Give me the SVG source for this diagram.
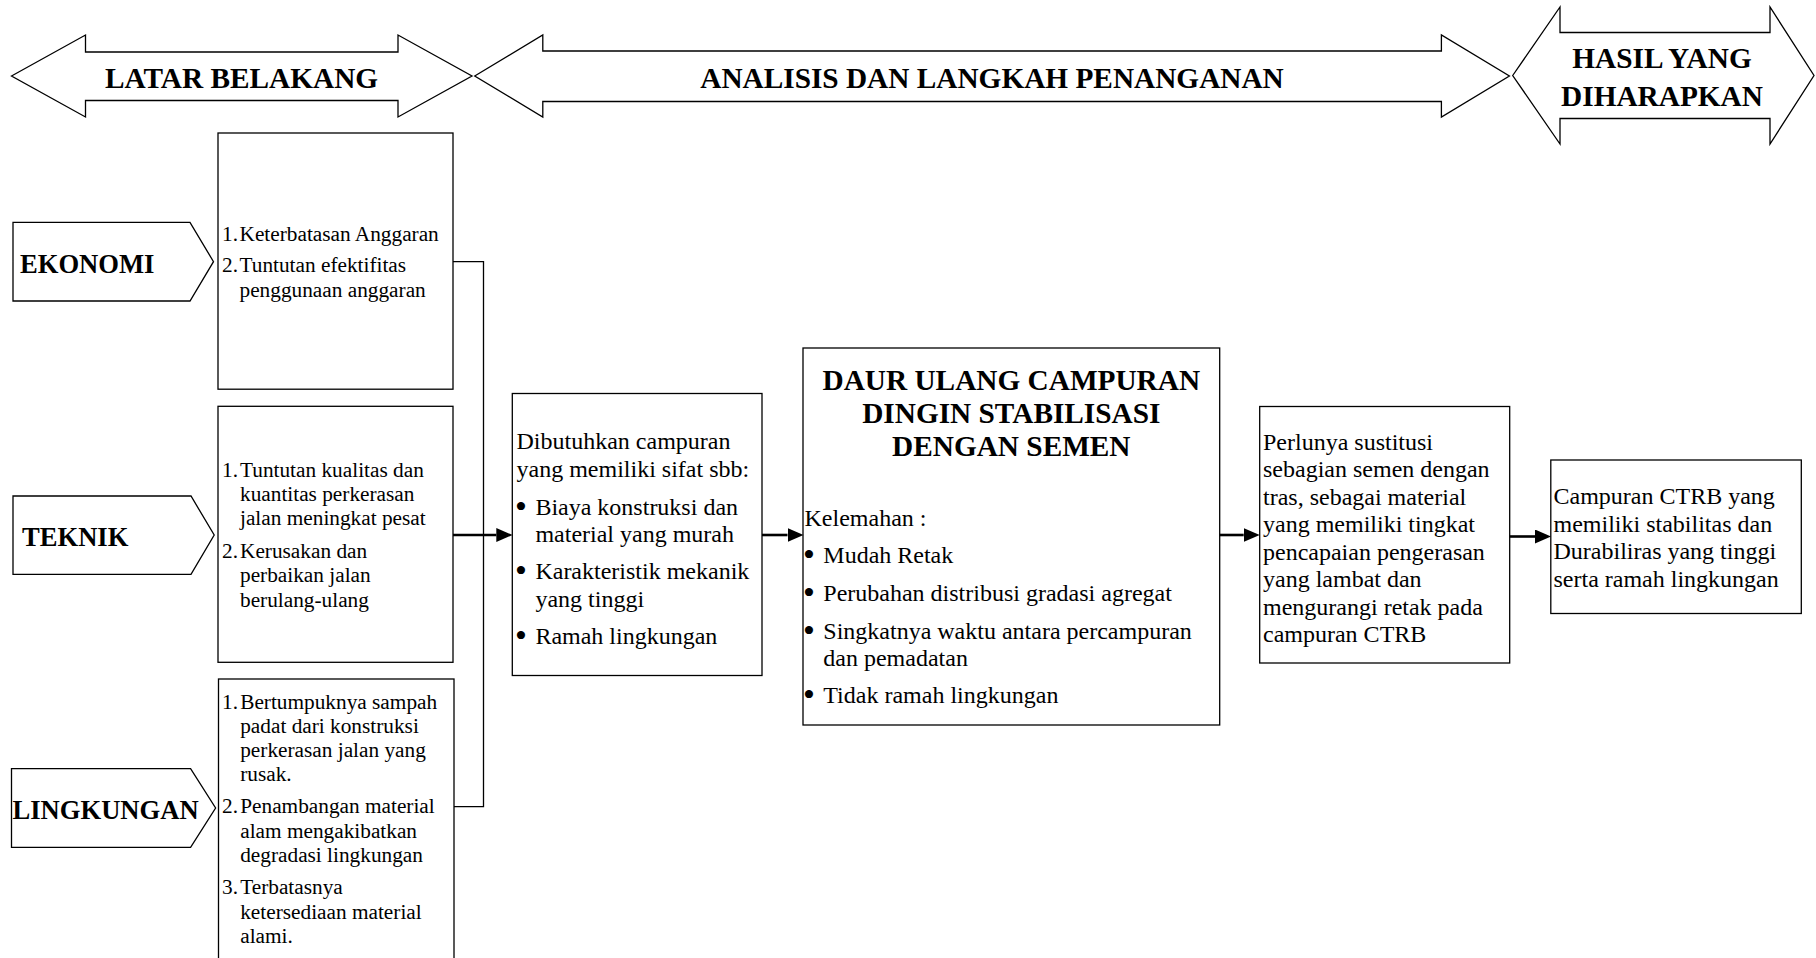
<svg xmlns="http://www.w3.org/2000/svg" width="1816" height="958" viewBox="0 0 1816 958">
<style>
.bg{fill:#ffffff}
.shape{fill:#ffffff;stroke:#000000;stroke-width:1.3}
.con{fill:none;stroke:#000000;stroke-width:1.3}
.arr{fill:none;stroke:#000000;stroke-width:2.6}
text{font-family:"Liberation Serif","Times New Roman",serif;fill:#000000}
.hd{font-size:29.3px;font-weight:bold}
.lbl{font-size:26.6px;font-weight:bold}
.sm{font-size:21.3px}
.md{font-size:24px}
.bl{font-size:34px}
.c{text-anchor:middle}
</style>
<defs>
<marker id="ah" viewBox="0 0 16 14" refX="0" refY="7" markerWidth="16" markerHeight="14" markerUnits="userSpaceOnUse" orient="auto">
<path d="M0,0 L16,7 L0,14 Z" fill="#000000"/>
</marker>
</defs>
<rect class="bg" x="0" y="0" width="1816" height="958"/>

<g id="band-latar">
<path class="shape" d="M11.5,76 L85.5,35 L85.5,52 L398,52 L398,35 L472,76 L398,117 L398,100.5 L85.5,100.5 L85.5,117 Z"/>
<text class="hd c" x="241.5" y="88.3">LATAR BELAKANG</text>
</g>
<g id="band-analisis">
<path class="shape" d="M474.7,76 L542.8,35 L542.8,51 L1441.4,51 L1441.4,35 L1509.4,76 L1441.4,117 L1441.4,101.5 L542.8,101.5 L542.8,117 Z"/>
<text class="hd c" x="992" y="88.3">ANALISIS DAN LANGKAH PENANGANAN</text>
</g>
<g id="band-hasil">
<path class="shape" d="M1512.7,75.5 L1560,7 L1560,32.5 L1770,32.5 L1770,7 L1814,75.5 L1770,144 L1770,118.5 L1560,118.5 L1560,144 Z"/>
<text class="hd c" x="1662" y="68.3">HASIL YANG</text>
<text class="hd c" x="1662" y="106">DIHARAPKAN</text>
</g>

<g id="ekonomi">
<path class="shape" d="M13,222.3 L190,222.3 L213.5,261.7 L190,301 L13,301 Z"/>
<text class="lbl" x="20" y="273.3">EKONOMI</text>
</g>
<g id="teknik">
<path class="shape" d="M13,496 L191,496 L214.2,535 L191,574.3 L13,574.3 Z"/>
<text class="lbl" x="22" y="546">TEKNIK</text>
</g>
<g id="lingkungan">
<path class="shape" d="M11.5,768.7 L190.6,768.7 L215.6,808 L190.6,847.3 L11.5,847.3 Z"/>
<text class="lbl" x="12.5" y="819.3">LINGKUNGAN</text>
</g>

<g id="box-ekonomi">
<rect class="shape" x="218" y="133" width="235" height="256.2"/>
<text class="sm" x="222" y="240.7">1.</text>
<text class="sm" x="239.5" y="240.7">Keterbatasan Anggaran</text>
<text class="sm" x="222" y="272.3">2.</text>
<text class="sm" x="239.5" y="272.3">Tuntutan efektifitas</text>
<text class="sm" x="239.5" y="296.7">penggunaan anggaran</text>
</g>
<g id="box-teknik">
<rect class="shape" x="218" y="406.3" width="235" height="256"/>
<text class="sm" x="222" y="477.3">1.</text>
<text class="sm" x="240" y="477.3">Tuntutan kualitas dan</text>
<text class="sm" x="240" y="501.3">kuantitas perkerasan</text>
<text class="sm" x="240" y="525.3">jalan meningkat pesat</text>
<text class="sm" x="222" y="557.7">2.</text>
<text class="sm" x="240" y="557.7">Kerusakan dan</text>
<text class="sm" x="240" y="582">perbaikan jalan</text>
<text class="sm" x="240" y="606.5">berulang-ulang</text>
</g>
<g id="box-lingkungan">
<rect class="shape" x="218.5" y="679" width="235.5" height="300"/>
<text class="sm" x="222" y="709.3">1.</text>
<text class="sm" x="240.2" y="709.3">Bertumpuknya sampah</text>
<text class="sm" x="240.2" y="733">padat dari konstruksi</text>
<text class="sm" x="240.2" y="757">perkerasan jalan yang</text>
<text class="sm" x="240.2" y="781">rusak.</text>
<text class="sm" x="222" y="813.3">2.</text>
<text class="sm" x="240.2" y="813.3">Penambangan material</text>
<text class="sm" x="240.2" y="837.5">alam mengakibatkan</text>
<text class="sm" x="240.2" y="861.7">degradasi lingkungan</text>
<text class="sm" x="222" y="894.3">3.</text>
<text class="sm" x="240.2" y="894.3">Terbatasnya</text>
<text class="sm" x="240.2" y="918.5">ketersediaan material</text>
<text class="sm" x="240.2" y="943">alami.</text>
</g>

<g id="box-kebutuhan">
<rect class="shape" x="512.3" y="393.5" width="249.7" height="282"/>
<text class="md" x="516.5" y="449">Dibutuhkan campuran</text>
<text class="md" x="516.5" y="477">yang memiliki sifat sbb:</text>
<text class="bl" x="515" y="518">•</text>
<text class="md" x="535.4" y="515">Biaya konstruksi dan</text>
<text class="md" x="535.4" y="542">material yang murah</text>
<text class="bl" x="515" y="581.5">•</text>
<text class="md" x="535.4" y="578.5">Karakteristik mekanik</text>
<text class="md" x="535.4" y="606.5">yang tinggi</text>
<text class="bl" x="515" y="646.5">•</text>
<text class="md" x="535.4" y="643.5">Ramah lingkungan</text>
</g>

<g id="box-daur-ulang">
<rect class="shape" x="803" y="348" width="416.7" height="377"/>
<text class="hd c" x="1011.3" y="390">DAUR ULANG CAMPURAN</text>
<text class="hd c" x="1011.3" y="422.7">DINGIN STABILISASI</text>
<text class="hd c" x="1011.3" y="455.5">DENGAN SEMEN</text>
<text class="md" x="804.5" y="525.5">Kelemahan :</text>
<text class="bl" x="803" y="566">•</text>
<text class="md" x="823.3" y="563">Mudah Retak</text>
<text class="bl" x="803" y="604">•</text>
<text class="md" x="823.3" y="601">Perubahan distribusi gradasi agregat</text>
<text class="bl" x="803" y="641.5">•</text>
<text class="md" x="823.3" y="638.5">Singkatnya waktu antara percampuran</text>
<text class="md" x="823.3" y="666">dan pemadatan</text>
<text class="bl" x="803" y="705.5">•</text>
<text class="md" x="823.3" y="702.5">Tidak ramah lingkungan</text>
</g>

<g id="box-substitusi">
<rect class="shape" x="1259.7" y="406.5" width="250" height="256.5"/>
<text class="md" x="1263" y="449.5">Perlunya sustitusi</text>
<text class="md" x="1263" y="477">sebagian semen dengan</text>
<text class="md" x="1263" y="504.5">tras, sebagai material</text>
<text class="md" x="1263" y="532">yang memiliki tingkat</text>
<text class="md" x="1263" y="559.5">pencapaian pengerasan</text>
<text class="md" x="1263" y="587">yang lambat dan</text>
<text class="md" x="1263" y="614.5">mengurangi retak pada</text>
<text class="md" x="1263" y="642">campuran CTRB</text>
</g>

<g id="box-hasil">
<rect class="shape" x="1550.8" y="460" width="250.5" height="153.5"/>
<text class="md" x="1553.5" y="504">Campuran CTRB yang</text>
<text class="md" x="1553.5" y="531.5">memiliki stabilitas dan</text>
<text class="md" x="1553.5" y="559">Durabiliras yang tinggi</text>
<text class="md" x="1553.5" y="586.5">serta ramah lingkungan</text>
</g>

<g id="connectors">
<path class="con" d="M453,261.7 H483.5 V806.7 H454"/>
<path class="arr" d="M453,535 H496.3" marker-end="url(#ah)"/>
<path class="arr" d="M762,535 H787.5" marker-end="url(#ah)"/>
<path class="arr" d="M1219.7,535 H1243.7" marker-end="url(#ah)"/>
<path class="arr" d="M1509.7,536.5 H1535" marker-end="url(#ah)"/>
</g>
</svg>
